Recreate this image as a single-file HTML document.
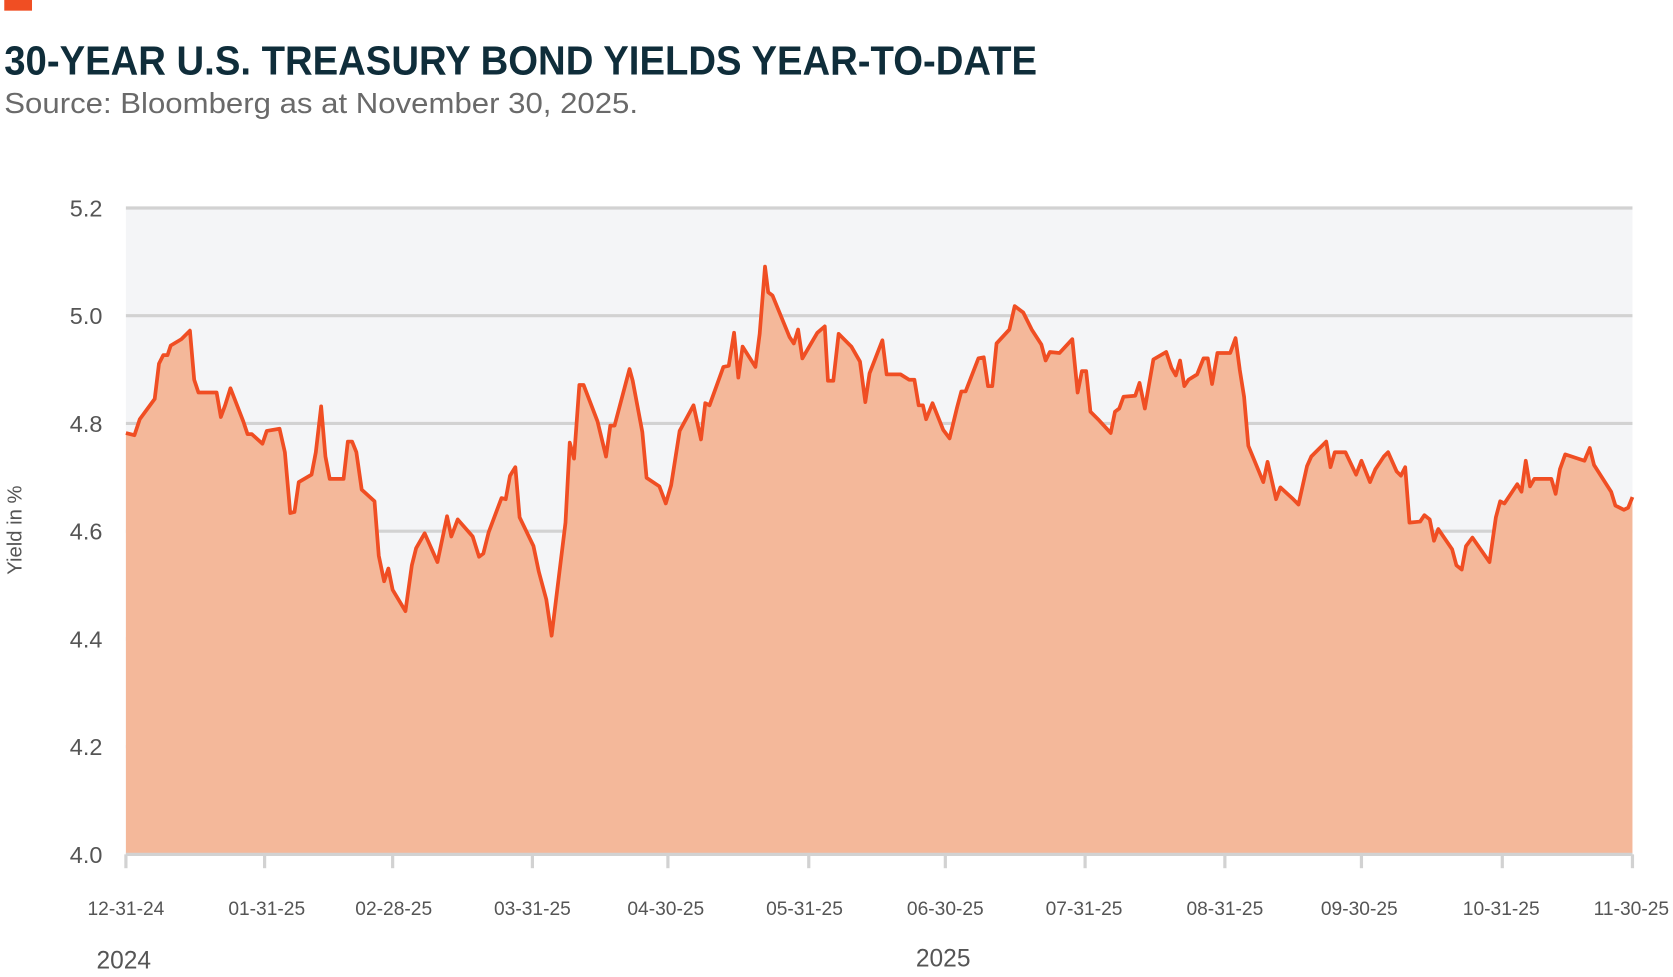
<!DOCTYPE html>
<html><head><meta charset="utf-8"><style>
html,body{margin:0;padding:0;background:#fff;}
svg{display:block;}
text{font-family:"Liberation Sans",sans-serif;}
</style></head><body>
<svg width="1673" height="977" viewBox="0 0 1568 916" preserveAspectRatio="none">
<rect x="4" y="0" width="26" height="10" fill="#f04e23"/>
<text x="4" y="70" font-size="38" font-weight="bold" fill="#0f2d3a" textLength="968" lengthAdjust="spacingAndGlyphs">30-YEAR U.S. TREASURY BOND YIELDS YEAR-TO-DATE</text>
<text x="4" y="106" font-size="27" fill="#6a6a6a" textLength="594" lengthAdjust="spacingAndGlyphs">Source: Bloomberg as at November 30, 2025.</text>
<rect x="118" y="195" width="1412" height="606" fill="#f4f5f7"/>
<g stroke="#d2d2d2" stroke-width="3">
<line x1="118" y1="195" x2="1530" y2="195"/>
<line x1="118" y1="296" x2="1530" y2="296"/>
<line x1="118" y1="397" x2="1530" y2="397"/>
<line x1="118" y1="498" x2="1530" y2="498"/>
<line x1="118" y1="599" x2="1530" y2="599"/>
<line x1="118" y1="700" x2="1530" y2="700"/>
</g>
<polygon fill="#f4b89a" points="118,801 118,406 126,408 131,393 145,374 149,341 153,333 157,333 160,324 170,318 178,310 182,356 186,368 203,368 207,391 211,380 216,364 228,395 232,407 236,407 246,416 250,404 262,402 267,424 272,481 276,480 280,452 292,445 296,424 301,381 305,428 309,449 322,449 326,414 330,414 334,424 339,459 351,470 355,521 360,545 364,533 368,553 380,573 386,530 390,514 398,500 410,527 419,484 423,503 429,487 443,503 449,522 453,519 458,499 470,467 474,468 478,446 483,438 487,485 500,512 505,536 512,562 517,596 530,490 534,415 538,430 543,361 547,361 560,395 568,428 572,399 576,399 590,346 593,357 602,405 606,448 618,456 624,472 629,455 637,404 650,380 657,412 661,378 665,380 678,344 683,343 688,312 692,354 696,325 708,344 712,313 717,250 720,274 724,277 740,316 744,322 748,309 752,336 766,312 773,306 776,357 781,357 786,313 798,325 806,339 811,377 815,350 827,319 831,351 844,351 852,356 857,356 861,380 865,380 868,393 874,378 884,403 890,411 897,382 901,367 905,367 917,336 922,335 926,362 930,362 934,322 946,309 951,287 959,293 967,309 976,323 980,338 984,330 993,331 1005,318 1010,368 1014,348 1018,348 1022,386 1030,394 1041,406 1045,386 1049,383 1053,372 1064,371 1068,359 1073,383 1081,337 1093,330 1098,345 1102,352 1106,338 1110,362 1114,356 1122,351 1128,336 1132,336 1136,360 1141,331 1153,331 1158,317 1162,347 1166,372 1170,418 1184,452 1188,433 1196,468 1200,457 1212,468 1217,473 1225,437 1229,428 1243,414 1247,438 1251,424 1261,424 1271,445 1276,432 1284,452 1289,440 1297,428 1301,424 1309,442 1313,446 1317,438 1321,490 1331,489 1335,483 1340,487 1344,507 1348,496 1361,515 1365,530 1370,534 1374,512 1380,504 1396,527 1402,485 1406,470 1410,472 1422,454 1426,461 1430,432 1434,456 1438,449 1454,449 1458,463 1462,440 1467,426 1485,432 1490,420 1494,436 1510,461 1514,474 1522,478 1526,476 1530,466 1530,801"/>
<polyline fill="none" stroke="#f04e23" stroke-width="3.5" stroke-linejoin="round" points="118,406 126,408 131,393 145,374 149,341 153,333 157,333 160,324 170,318 178,310 182,356 186,368 203,368 207,391 211,380 216,364 228,395 232,407 236,407 246,416 250,404 262,402 267,424 272,481 276,480 280,452 292,445 296,424 301,381 305,428 309,449 322,449 326,414 330,414 334,424 339,459 351,470 355,521 360,545 364,533 368,553 380,573 386,530 390,514 398,500 410,527 419,484 423,503 429,487 443,503 449,522 453,519 458,499 470,467 474,468 478,446 483,438 487,485 500,512 505,536 512,562 517,596 530,490 534,415 538,430 543,361 547,361 560,395 568,428 572,399 576,399 590,346 593,357 602,405 606,448 618,456 624,472 629,455 637,404 650,380 657,412 661,378 665,380 678,344 683,343 688,312 692,354 696,325 708,344 712,313 717,250 720,274 724,277 740,316 744,322 748,309 752,336 766,312 773,306 776,357 781,357 786,313 798,325 806,339 811,377 815,350 827,319 831,351 844,351 852,356 857,356 861,380 865,380 868,393 874,378 884,403 890,411 897,382 901,367 905,367 917,336 922,335 926,362 930,362 934,322 946,309 951,287 959,293 967,309 976,323 980,338 984,330 993,331 1005,318 1010,368 1014,348 1018,348 1022,386 1030,394 1041,406 1045,386 1049,383 1053,372 1064,371 1068,359 1073,383 1081,337 1093,330 1098,345 1102,352 1106,338 1110,362 1114,356 1122,351 1128,336 1132,336 1136,360 1141,331 1153,331 1158,317 1162,347 1166,372 1170,418 1184,452 1188,433 1196,468 1200,457 1212,468 1217,473 1225,437 1229,428 1243,414 1247,438 1251,424 1261,424 1271,445 1276,432 1284,452 1289,440 1297,428 1301,424 1309,442 1313,446 1317,438 1321,490 1331,489 1335,483 1340,487 1344,507 1348,496 1361,515 1365,530 1370,534 1374,512 1380,504 1396,527 1402,485 1406,470 1410,472 1422,454 1426,461 1430,432 1434,456 1438,449 1454,449 1458,463 1462,440 1467,426 1485,432 1490,420 1494,436 1510,461 1514,474 1522,478 1526,476 1530,466"/>
<g stroke="#d2d2d2" stroke-width="3">
<line x1="118" y1="801" x2="1530" y2="801"/>
<line x1="118" y1="801" x2="118" y2="814"/><line x1="248" y1="801" x2="248" y2="814"/><line x1="368" y1="801" x2="368" y2="814"/><line x1="499" y1="801" x2="499" y2="814"/><line x1="626" y1="801" x2="626" y2="814"/><line x1="758" y1="801" x2="758" y2="814"/><line x1="886" y1="801" x2="886" y2="814"/><line x1="1017" y1="801" x2="1017" y2="814"/><line x1="1148" y1="801" x2="1148" y2="814"/><line x1="1276" y1="801" x2="1276" y2="814"/><line x1="1408" y1="801" x2="1408" y2="814"/><line x1="1530" y1="801" x2="1530" y2="814"/>
</g>
<g font-size="22" fill="#555" text-anchor="end">
<text x="96" y="203">5.2</text><text x="96" y="304">5.0</text><text x="96" y="405">4.8</text><text x="96" y="506">4.6</text><text x="96" y="607">4.4</text><text x="96" y="708">4.2</text><text x="96" y="809">4.0</text>
</g>
<text transform="translate(20,497) rotate(-90)" font-size="19" fill="#555" text-anchor="middle">Yield in %</text>
<g font-size="18" fill="#555" text-anchor="middle">
<text x="118" y="858">12-31-24</text><text x="250" y="858">01-31-25</text><text x="369" y="858">02-28-25</text><text x="499" y="858">03-31-25</text><text x="624" y="858">04-30-25</text><text x="754" y="858">05-31-25</text><text x="886" y="858">06-30-25</text><text x="1016" y="858">07-31-25</text><text x="1148" y="858">08-31-25</text><text x="1274" y="858">09-30-25</text><text x="1407" y="858">10-31-25</text><text x="1529" y="858">11-30-25</text>
</g>
<text x="116" y="908" font-size="23" fill="#555" text-anchor="middle">2024</text>
<text x="884" y="906" font-size="23" fill="#555" text-anchor="middle">2025</text>
</svg>
</body></html>
